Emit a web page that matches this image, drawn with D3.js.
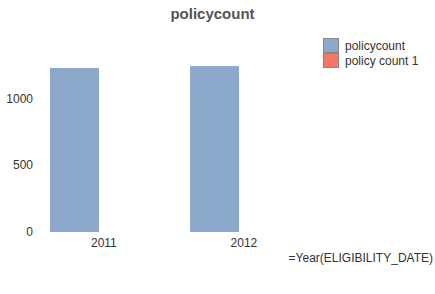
<!DOCTYPE html>
<html>
<head>
<meta charset="utf-8">
<script src="https://cdn.jsdelivr.net/npm/d3@7"></script>
<style>
  html, body { margin: 0; padding: 0; background: #fff; }
  svg { display: block; font-family: "Liberation Sans", Arial, sans-serif; }
</style>
</head>
<body>
<svg id="chart" width="435" height="294"></svg>
<script>
const title = "policycount";
const categories = ["2011", "2012"];
const policycount = [1227, 1241];
const policycount1 = [0, 0];
const yTicks = [0, 500, 1000];
const seriesNames = ["policycount", "policy count 1"];
const xAxisTitle = "=Year(ELIGIBILITY_DATE)";

const colors = ["#8CA8CA", "#F6776A"];
const svg = d3.select("#chart");

const x = d3.scaleBand().domain(categories).range([50, 330]).paddingInner(0).paddingOuter(0);
const y = d3.scaleLinear().domain([0, 1000]).range([232, 98.3]);

// title
svg.append("text")
  .attr("x", 212.5).attr("y", 19)
  .attr("text-anchor", "middle")
  .attr("font-size", 15).attr("font-weight", "bold")
  .attr("fill", "#555")
  .text(title);

// bars
const barW = x.bandwidth() * 0.35;
svg.selectAll("rect.bar")
  .data(categories.map((c, i) => ({ c, v: policycount[i] })))
  .join("rect")
  .attr("class", "bar")
  .attr("x", d => x(d.c))
  .attr("y", d => y(d.v))
  .attr("width", barW)
  .attr("height", d => y(0) - y(d.v))
  .attr("fill", colors[0]);

// second series (zero values)
svg.selectAll("rect.bar2")
  .data(categories.map((c, i) => ({ c, v: policycount1[i] })))
  .join("rect")
  .attr("class", "bar2")
  .attr("x", d => x(d.c) + barW)
  .attr("y", d => y(d.v))
  .attr("width", barW)
  .attr("height", d => y(0) - y(d.v))
  .attr("fill", colors[1]);

// y axis labels
const yAxis = d3.axisLeft(y).tickValues(yTicks).tickFormat(d3.format("d")).tickSize(0).tickPadding(0);
const yg = svg.append("g").attr("transform", "translate(33,0)").call(yAxis);
yg.select(".domain").remove();
yg.selectAll("text").attr("font-size", 12).attr("fill", "#333")
  .attr("font-family", "'Liberation Sans', Arial, sans-serif");

// x axis labels
svg.selectAll("text.xl")
  .data(categories)
  .join("text")
  .attr("class", "xl")
  .attr("x", d => x(d) + x.bandwidth() * 0.385)
  .attr("y", 247)
  .attr("text-anchor", "middle")
  .attr("font-size", 12).attr("fill", "#333")
  .text(d => d);

// x axis title
svg.append("text")
  .attr("x", 433).attr("y", 262)
  .attr("text-anchor", "end")
  .attr("font-size", 12).attr("fill", "#333")
  .text(xAxisTitle);

// legend
const lg = svg.append("g");
seriesNames.forEach((name, i) => {
  lg.append("rect")
    .attr("x", 323.5).attr("y", 38.5 + i * 15)
    .attr("width", 15).attr("height", 14)
    .attr("fill", colors[i])
    .attr("stroke", "#888").attr("stroke-width", 1);
  lg.append("text")
    .attr("x", 345).attr("y", 50 + i * 15)
    .attr("font-size", 12).attr("fill", "#333")
    .text(name);
});
</script>
</body>
</html>
